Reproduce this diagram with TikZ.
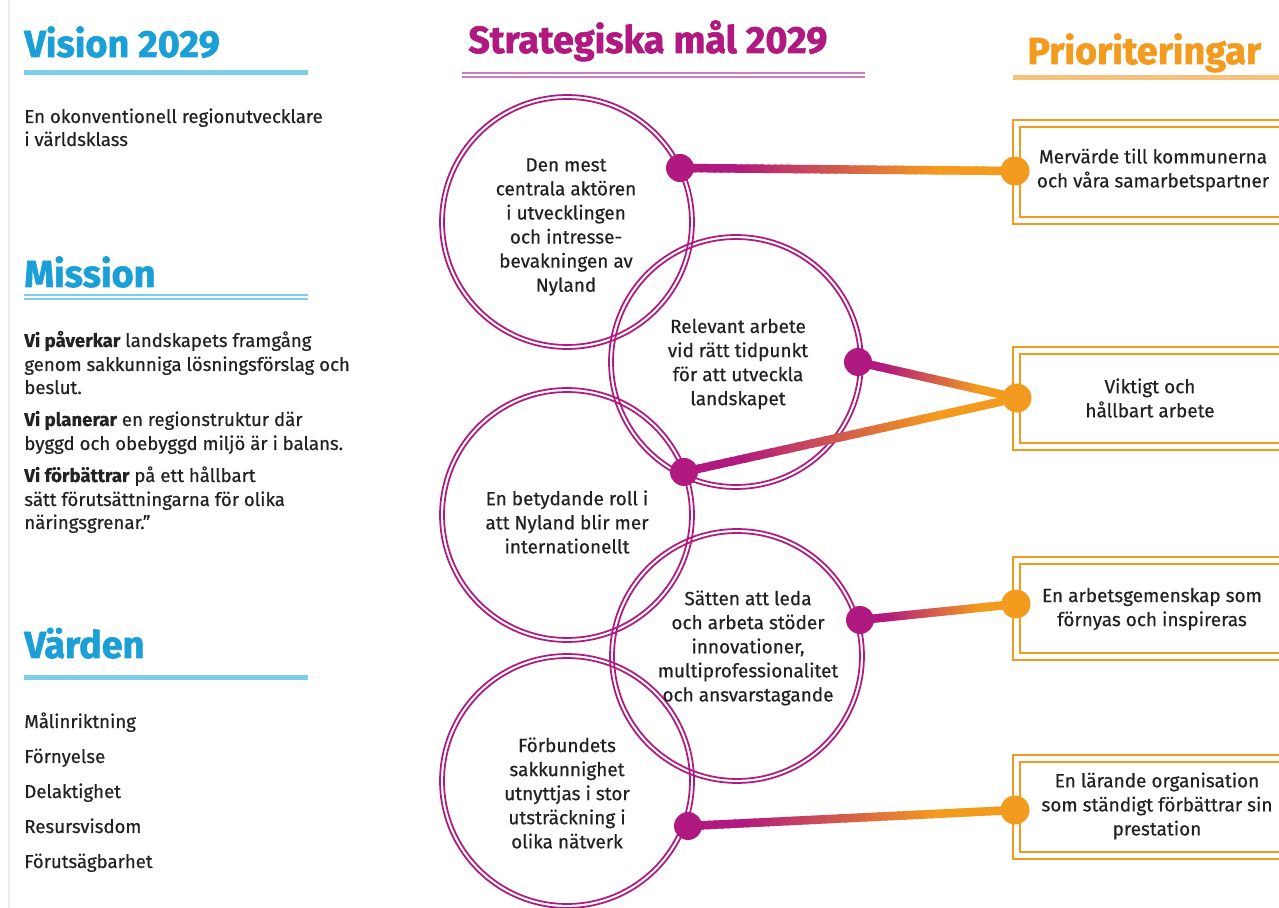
\documentclass[tikz,border=0pt]{standalone}
\usepackage{fontspec}
\setmainfont{Fira Sans}[UprightFeatures={FakeBold=0.5}, BoldFeatures={FakeBold=0.6}]
\newfontfamily\headfont{Fira Sans}[BoldFeatures={FakeBold=1.6}]
\usetikzlibrary{calc}
\definecolor{vblue}{HTML}{1A9FD6}
\definecolor{vbluel}{HTML}{7DCDEB}
\definecolor{mag}{HTML}{B0197F}
\definecolor{magl}{HTML}{D27AB6}
\definecolor{org}{HTML}{F39B1E}
\definecolor{orgl}{HTML}{F8C27E}
\definecolor{txt}{HTML}{222222}
\newcommand\gline[2]{%
 \foreach \i in {0,...,49}{%
  \pgfmathsetmacro\ta{\i/50}%
  \pgfmathsetmacro\tb{(\i+1.4)/50}%
  \pgfmathtruncatemacro\pp{max(0,min(100,(\i/50-0.15)/0.6*100))}%
  \draw[line width=0.17cm, draw=org!\pp!mag] ($(#1)!\ta!(#2)$) -- ($(#1)!\tb!(#2)$);
 }}
\begin{document}
\begin{tikzpicture}[x=0.02cm,y=-0.02cm,
 head/.style={font=\headfont\fontsize{21.5}{24}\selectfont\bfseries, anchor=base west, inner sep=0},
 body/.style={font=\fontsize{10.6}{13.7}\selectfont, text=txt, anchor=base west, inner sep=0},
 ctext/.style={font=\fontsize{10.8}{13.7}\selectfont, text=txt, align=center, inner sep=0},
 ring/.style={draw=mag, line width=0.035cm},
 obox/.style={draw=org, line width=0.035cm},
 mdot/.style={circle, fill=mag, minimum size=0.56cm, inner sep=0},
 odot/.style={circle, fill=org, minimum size=0.58cm, inner sep=0},
]
\useasboundingbox (0,0) rectangle (1279,908);
\clip (0,0) rectangle (1279,908);
\fill[white] (0,0) rectangle (1279,908);
\draw[gray!15, line width=0.03cm] (9,0) -- (9,908);

% ---- left column
\node[head, text=vblue] (hv) at (24,57) {Vision 2029};
\draw[vbluel, line width=0.1cm] (24,73) -- (308,73);
\node[body] (v1) at (24,123) {En okonventionell regionutvecklare};
\node[body] (v2) at (24,146) {i världsklass};

\node[head, text=vblue] (hm) at (24,287) {Mission};
\draw[vbluel, line width=0.03cm] (24,295) -- (308,295);
\draw[vbluel, line width=0.03cm] (24,299) -- (308,299);
\node[body] (m1) at (24,347) {\textbf{Vi påverkar} landskapets framgång};
\node[body] (m2) at (24,371) {genom sakkunniga lösningsförslag och};
\node[body] (m3) at (24,394) {beslut.};
\node[body] (m4) at (24,426) {\textbf{Vi planerar} en regionstruktur där};
\node[body] (m5) at (24,450) {byggd och obebyggd miljö är i balans.};
\node[body] (m6) at (24,482) {\textbf{Vi förbättrar} på ett hållbart};
\node[body] (m7) at (24,506) {sätt förutsättningarna för olika};
\node[body] (m8) at (24,529) {näringsgrenar."};

\node[head, text=vblue] (hw) at (24,658) {Värden};
\draw[vbluel, line width=0.1cm] (24,678) -- (308,678);
\node[body] (w1) at (24,728) {Målinriktning};
\node[body] (w2) at (24,763) {Förnyelse};
\node[body] (w3) at (24,798) {Delaktighet};
\node[body] (w4) at (24,833) {Resursvisdom};
\node[body] (w5) at (24,868) {Förutsägbarhet};

% ---- middle header
\node[head, text=mag] (hs) at (468,53) {Strategiska mål 2029};
\draw[magl, line width=0.03cm] (462,73) -- (865,73);
\draw[magl, line width=0.03cm] (462,77) -- (865,77);

% ---- right header
\node[head, text=org] (hp) at (1027,64) {Prioriteringar};
\draw[orgl, line width=0.1cm] (1013,78) -- (1279,78);

% ---- circles
\coordinate (c1) at (567,222);
\coordinate (c2) at (736,362);
\coordinate (c3) at (567,515);
\coordinate (c4) at (737,656);
\coordinate (c5) at (567,781);
\foreach \c in {c1,c2,c3,c4,c5}{
  \draw[ring] (\c) circle[radius=2.54cm];
  \draw[ring] (\c) circle[radius=2.46cm];
}
\node[ctext] (t1) at (566,227) {Den mest\\centrala aktören\\i utvecklingen\\och intresse-\\bevakningen av\\Nyland};
\node[ctext] (t2) at (738,364) {Relevant arbete\\vid rätt tidpunkt\\för att utveckla\\landskapet};
\node[ctext] (t3) at (567,522) {En betydande roll i\\att Nyland blir mer\\internationellt};
\node[ctext] (t4) at (748,648) {Sätten att leda\\och arbeta stöder\\innovationer,\\multiprofessionalitet\\och ansvarstagande};
\node[ctext] (t5) at (567,793) {Förbundets\\sakkunnighet\\utnyttjas i stor\\utsträckning i\\olika nätverk};

% ---- boxes
\draw[obox] (1013,120) rectangle (1300,224);
\draw[obox] (1020,127) rectangle (1300,217);
\draw[obox] (1013,347) rectangle (1300,450);
\draw[obox] (1020,354) rectangle (1300,443);
\draw[obox] (1013,557) rectangle (1300,660);
\draw[obox] (1020,564) rectangle (1300,653);
\draw[obox] (1013,755) rectangle (1300,859);
\draw[obox] (1020,762) rectangle (1300,852);
\node[ctext] (b1) at (1153,170) {Mervärde till kommunerna\\och våra samarbetspartner};
\node[ctext] (b2) at (1150,398) {Viktigt och\\hållbart arbete};
\node[ctext] (b3) at (1152,609) {En arbetsgemenskap som\\förnyas och inspireras};
\node[ctext] (b4) at (1157,806) {En lärande organisation\\som ständigt förbättrar sin\\prestation};

% ---- connectors
\coordinate (d1) at (680,168);
\coordinate (d2) at (858,362);
\coordinate (d3) at (684,472);
\coordinate (d4) at (860,620);
\coordinate (d5) at (688,826);
\coordinate (o1) at (1015,171);
\coordinate (o2) at (1017,398);
\coordinate (o3) at (1016,604);
\coordinate (o4) at (1015,810);
\gline{d1}{o1}
\gline{d2}{o2}
\gline{d3}{o2}
\gline{d4}{o3}
\gline{d5}{o4}
\foreach \d in {d1,d2,d3,d4,d5}{ \node[mdot] (\d n) at (\d) {}; }
\foreach \o in {o1,o2,o3,o4}{ \node[odot] (\o n) at (\o) {}; }
\end{tikzpicture}
\end{document}
